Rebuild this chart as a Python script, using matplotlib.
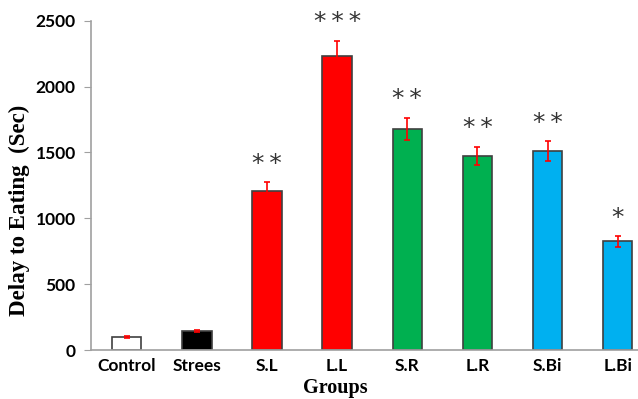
import numpy as np
import matplotlib.pyplot as plt

groups = ['Control', 'Strees', 'S.L', 'L.L', 'S.R', 'L.R', 'S.Bi', 'L.Bi']
delay = [100, 145, 1210, 2235, 1680, 1475, 1510, 825]
errors = [6, 8, 65, 115, 85, 70, 75, 40]
stars = ['', '', '**', '***', '**', '**', '**', '*']
colors = ['white', 'black', '#ff0000', '#ff0000', '#00b050', '#00b050', '#00b0f0', '#00b0f0']

fig = plt.figure(figsize=(6.38, 3.99), dpi=100)
ax = fig.add_axes([0.1426, 0.1228, 0.8574, 0.825])

x = np.arange(len(groups))
ax.bar(x, delay, width=0.42, color=colors, edgecolor='#404040', linewidth=1.2, zorder=2)
ax.errorbar(x, delay, yerr=errors, fmt='none', ecolor='red', elinewidth=1.2,
            capsize=2.5, capthick=1.2, zorder=3)

for xi, v, e, s in zip(x, delay, errors, stars):
    if s:
        ax.text(xi, v + e + 50, '\u2009'.join(s), ha='center', va='bottom',
                fontsize=18, color='#333333', family='DejaVu Sans')

ax.set_xlim(-0.51, 7.29)
ax.set_ylim(0, 2500)
ax.set_yticks([0, 500, 1000, 1500, 2000, 2500])
ax.set_xticks(x)
ax.set_xticklabels(groups, fontsize=12.5, fontweight='bold', family='Lato')
for lbl in ax.get_yticklabels():
    lbl.set_fontsize(12.5)
    lbl.set_fontweight('bold')
    lbl.set_family('Lato')

ax.tick_params(axis='x', length=0, pad=6)
ax.tick_params(axis='y', length=5, color='#a0a0a0', pad=6)

for side in ['top', 'right']:
    ax.spines[side].set_visible(False)
for side in ['left', 'bottom']:
    ax.spines[side].set_color('#a0a0a0')
    ax.spines[side].set_linewidth(1.2)

ax.set_ylabel('Delay to Eating  (Sec)', fontsize=16.5, fontweight='bold', family='Liberation Serif')
ax.yaxis.set_label_coords(-0.112, 0.425)
ax.set_xlabel('Groups', fontsize=14.5, fontweight='bold', family='Liberation Serif')
ax.xaxis.set_label_coords(0.446, -0.085)

fig.savefig('out.png', dpi=100)
